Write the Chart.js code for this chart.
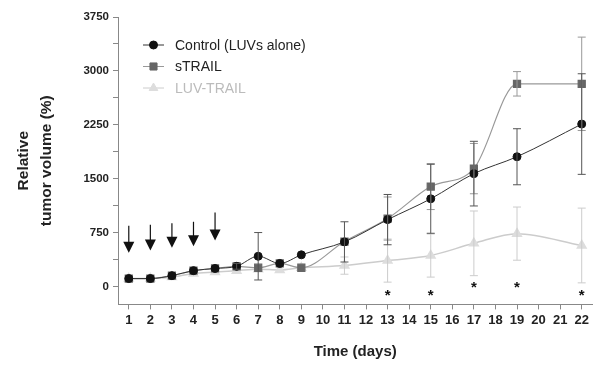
<!DOCTYPE html>
<html>
<head>
<meta charset="utf-8">
<script src="https://cdn.jsdelivr.net/npm/chart.js@4"></script>
<style>
  html, body { margin: 0; padding: 0; background: #fff; }
  #wrap { width: 599px; height: 365px; }
</style>
</head>
<body>
<div id="wrap"><canvas id="tumorChart"></canvas></div>
<script>
const days = ['1','2','3','4','5','6','7','8','9','10','11','12','13','14','15','16','17','18','19','20','21','22'];

const control    = [110, 110, 150, 220, 250, 280, 420, 320, 440, null, 620, null, 930, null, 1220, null, 1570, null, 1805, null, null, 2260];
const controlErr = [0, 0, 0, 0, 0, 40, 330, 0, 0, null, 280, null, 350, null, 480, null, 450, null, 390, null, null, 700];
const strail     = [110, 110, 150, 220, 250, 280, 260, 320, 260, null, 625, null, 945, null, 1390, null, 1640, null, 2820, null, null, 2820];
const strailErr  = [0, 0, 0, 0, 0, 0, 0, 0, 0, null, 0, null, 300, null, 320, null, 350, null, 170, null, null, 650];
const luvTrail   = [110, 110, 130, 180, 200, 220, 240, 230, 260, null, 290, null, 360, null, 430, null, 600, null, 735, null, null, 570];
const luvTrailErr = [0, 0, 0, 0, 0, 0, 0, 0, 0, null, 120, null, 300, null, 300, null, 450, null, 370, null, null, 520];

const yTicks = [0, 750, 1500, 2250, 3000, 3750];
const yMinorStep = 375;

// injection arrows (days 1-5) and significance marks
const arrowDays = ['1', '2', '3', '4', '5'];
const arrowTop  = [845, 860, 880, 900, 1030];
const arrowTip  = [470, 500, 540, 560, 640];
const starDays  = ['13', '15', '17', '19', '22'];
const starVals  = [-90, -90, 20, 20, -90];

const seriesErr = [controlErr, strailErr, luvTrailErr];

const errorBars = {
  id: 'errorBars',
  afterDatasetsDraw(chart) {
    const ctx = chart.ctx;
    const y = chart.scales.y;
    for (let d = chart.data.datasets.length - 1; d >= 0; d--) {
      const ds = chart.data.datasets[d];
      const meta = chart.getDatasetMeta(d);
      const errs = seriesErr[d];
      ctx.save();
      ctx.strokeStyle = ds.errColor;
      ctx.lineWidth = 1;
      meta.data.forEach((pt, i) => {
        const v = ds.data[i], e = errs[i];
        if (v == null || !e) return;
        const top = y.getPixelForValue(v + e), bot = y.getPixelForValue(v - e);
        ctx.beginPath();
        ctx.moveTo(pt.x, top); ctx.lineTo(pt.x, bot);
        ctx.moveTo(pt.x - 4, top); ctx.lineTo(pt.x + 4, top);
        ctx.moveTo(pt.x - 4, bot); ctx.lineTo(pt.x + 4, bot);
        ctx.stroke();
      });
      ctx.restore();
    }
  }
};

const extras = {
  id: 'extras',
  afterDraw(chart) {
    const ctx = chart.ctx;
    const x = chart.scales.x, y = chart.scales.y;
    ctx.save();
    // arrows
    ctx.strokeStyle = '#111';
    ctx.fillStyle = '#111';
    ctx.lineWidth = 1.2;
    arrowDays.forEach((d, i) => {
      const px = x.getPixelForValue(days.indexOf(d));
      const t = y.getPixelForValue(arrowTop[i]);
      const b = y.getPixelForValue(arrowTip[i]);
      ctx.beginPath();
      ctx.moveTo(px, t); ctx.lineTo(px, b - 8);
      ctx.stroke();
      ctx.beginPath();
      ctx.moveTo(px - 5.5, b - 11); ctx.lineTo(px + 5.5, b - 11); ctx.lineTo(px, b);
      ctx.closePath();
      ctx.fill();
    });
    // asterisks
    ctx.font = 'bold 15px "Liberation Sans", Arial, sans-serif';
    ctx.textAlign = 'center';
    ctx.textBaseline = 'middle';
    starDays.forEach((d, i) => {
      ctx.fillText('*', x.getPixelForValue(days.indexOf(d)), y.getPixelForValue(starVals[i]) + 3);
    });
    // legend
    const items = [
      { label: 'Control (LUVs alone)', ds: chart.data.datasets[0] },
      { label: 'sTRAIL', ds: chart.data.datasets[1] },
      { label: 'LUV-TRAIL', ds: chart.data.datasets[2] }
    ];
    ctx.font = '14px "Liberation Sans", Arial, sans-serif';
    ctx.textAlign = 'left';
    items.forEach((it, i) => {
      const ly = 45 + i * 21.5;
      ctx.strokeStyle = it.ds.borderColor;
      ctx.lineWidth = 1;
      ctx.beginPath(); ctx.moveTo(143, ly); ctx.lineTo(164, ly); ctx.stroke();
      ctx.fillStyle = it.ds.pointBackgroundColor;
      ctx.strokeStyle = it.ds.pointBackgroundColor;
      Chart.helpers.drawPoint(ctx, { pointStyle: it.ds.pointStyle, radius: it.ds.pointRadius, rotation: 0, borderWidth: 1 }, 153.5, ly);
      ctx.fillStyle = i === 2 ? '#bbb' : '#222';
      ctx.fillText(it.label, 175, ly + 1);
    });
    ctx.restore();
  }
};

new Chart(document.getElementById('tumorChart').getContext('2d'), {
  type: 'line',
  data: {
    labels: days,
    datasets: [
      {
        label: 'Control (LUVs alone)',
        data: control,
        borderColor: '#333',
        errColor: '#555',
        pointBackgroundColor: '#111',
        pointBorderColor: '#111',
        pointStyle: 'circle',
        pointRadius: 4,
        borderWidth: 1,
        cubicInterpolationMode: 'monotone',
        spanGaps: true,
        order: 1
      },
      {
        label: 'sTRAIL',
        data: strail,
        borderColor: '#999',
        errColor: '#999',
        pointBackgroundColor: '#666',
        pointBorderColor: '#666',
        pointStyle: 'rect',
        pointRadius: 5,
        borderWidth: 1.2,
        cubicInterpolationMode: 'monotone',
        spanGaps: true,
        order: 2
      },
      {
        label: 'LUV-TRAIL',
        data: luvTrail,
        borderColor: '#ccc',
        errColor: '#ccc',
        pointBackgroundColor: '#ddd',
        pointBorderColor: '#ddd',
        pointStyle: 'triangle',
        pointRadius: 5,
        borderWidth: 1.5,
        cubicInterpolationMode: 'monotone',
        spanGaps: true,
        order: 3
      }
    ]
  },
  options: {
    responsive: true,
    maintainAspectRatio: false,
    animation: false,
    layout: { padding: { left: 12, top: 17, right: 0, bottom: 4 } },
    plugins: { legend: { display: false }, tooltip: { enabled: false } },
    scales: {
      x: {
        offset: true,
        grid: { drawOnChartArea: false, tickLength: 5, color: '#888' },
        border: { color: '#888' },
        ticks: {
          color: '#222', padding: 3, maxRotation: 0, autoSkip: false,
          font: { family: '"Liberation Sans", Arial, sans-serif', size: 13, weight: 'bold' }
        },
        title: {
          display: true, text: 'Time (days)', color: '#222',
          padding: { top: 12, bottom: 0 },
          font: { family: '"Liberation Sans", Arial, sans-serif', size: 15, weight: 'bold' }
        }
      },
      y: {
        min: -250,
        max: 3750,
        afterBuildTicks(axis) {
          const t = [];
          for (let v = 0; v <= 3750; v += yMinorStep) t.push({ value: v });
          axis.ticks = t;
        },
        afterFit(axis) { axis.width = 106; },
        grid: { drawOnChartArea: false, tickLength: 5, color: '#888' },
        border: { color: '#888' },
        ticks: {
          color: '#222', padding: 4,
          callback: v => yTicks.includes(v) ? String(v) : '',
          font: { family: '"Liberation Sans", Arial, sans-serif', size: 11.5, weight: 'bold' }
        },
        title: {
          display: true, text: ['Relative', 'tumor volume (%)'], color: '#222',
          padding: { top: 0, bottom: 0 },
          font: { family: '"Liberation Sans", Arial, sans-serif', size: 15.5, weight: 'bold', lineHeight: 1.5 }
        }
      }
    }
  },
  plugins: [errorBars, extras]
});
</script>
</body>
</html>
